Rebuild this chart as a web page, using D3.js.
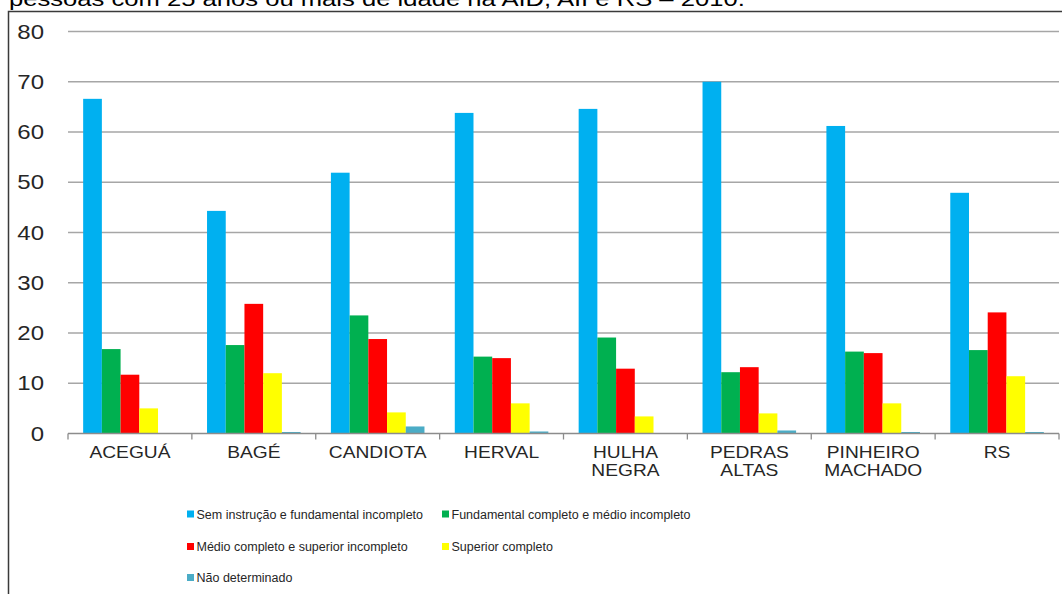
<!DOCTYPE html>
<html>
<head>
<meta charset="utf-8">
<script src="https://cdn.jsdelivr.net/npm/d3@7.9.0/dist/d3.min.js"></script>
<style>
  html, body { margin: 0; padding: 0; background: #fff; }
  svg { display: block; font-family: Arial, "Liberation Sans", sans-serif; }
</style>
</head>
<body>
<div id="chart"></div>
<script>
// === Data ===
const municipios = ["ACEGUÁ", "BAGÉ", "CANDIOTA", "HERVAL", "HULHA NEGRA", "PEDRAS ALTAS", "PINHEIRO MACHADO", "RS"];
const labelLines = [["ACEGUÁ"], ["BAGÉ"], ["CANDIOTA"], ["HERVAL"], ["HULHA", "NEGRA"], ["PEDRAS", "ALTAS"], ["PINHEIRO", "MACHADO"], ["RS"]];

const series = [
  "Sem instrução e fundamental incompleto",
  "Fundamental completo e médio incompleto",
  "Médio completo e superior incompleto",
  "Superior completo",
  "Não determinado"
];
const colors = ["#00B0F0", "#00B050", "#FF0000", "#FFFF00", "#4BACC6"];

const semInstrucao  = [66.6, 44.3, 51.9, 63.8, 64.6, 70.0, 61.2, 47.9];
const fundamental   = [16.8, 17.6, 23.5, 15.3, 19.1, 12.2, 16.3, 16.6];
const medio         = [11.7, 25.8, 18.8, 15.0, 12.9, 13.2, 16.0, 24.1];
const superior      = [5.0, 12.0, 4.2, 6.0, 3.4, 4.0, 6.0, 11.4];
const naoDeterminado = [0.0, 0.3, 1.4, 0.4, 0.0, 0.6, 0.3, 0.3];
const valores = [semInstrucao, fundamental, medio, superior, naoDeterminado];

const yTicks = [0, 10, 20, 30, 40, 50, 60, 70, 80];
const titulo = "pessoas com 25 anos ou mais de idade na AID, AII e RS – 2010.";

// === Layout ===
const W = 1062, H = 594;
const plot = { left: 68, right: 1059, top: 31.5, bottom: 433.5 };

const svg = d3.select("#chart").append("svg")
  .attr("width", W).attr("height", H);

// caption line above the frame, cut off by the top edge as in the source image
svg.append("text")
  .attr("transform", "translate(9,6) scale(1.22,1)")
  .attr("font-size", 21)
  .attr("fill", "#000")
  .text(titulo);

// frame (left + top border)
svg.append("path")
  .attr("d", `M8.5,${H} V11.5 H${W}`)
  .attr("fill", "none")
  .attr("stroke", "#3a3a3a")
  .attr("stroke-width", 1.5);

// === Scales ===
const x0 = d3.scaleBand().domain(municipios).range([plot.left, plot.right]).padding(0);
const x1 = d3.scaleBand().domain(series).range([0, x0.bandwidth()]).paddingInner(0).paddingOuter(0.81);
const y = d3.scaleLinear().domain([0, 80]).range([plot.bottom, plot.top]);

// gridlines
svg.append("g").selectAll("line")
  .data(yTicks.filter(t => t > 0))
  .join("line")
  .attr("x1", plot.left).attr("x2", plot.right)
  .attr("y1", d => y(d)).attr("y2", d => y(d))
  .attr("stroke", "#a6a6a6").attr("stroke-width", 1.3);

// y tick labels
svg.append("g").selectAll("text")
  .data(yTicks)
  .join("text")
  .attr("transform", d => `translate(44,${y(d)}) scale(1.2,1)`)
  .attr("text-anchor", "end")
  .attr("dy", "0.36em")
  .attr("font-size", 20)
  .attr("fill", "#262626")
  .text(d => d);

// bars
const groups = svg.append("g").selectAll("g")
  .data(municipios)
  .join("g")
  .attr("transform", d => `translate(${x0(d)},0)`);

groups.selectAll("rect")
  .data((d, i) => series.map((s, k) => ({ s, k, v: valores[k][i] })))
  .join("rect")
  .attr("x", d => x1(d.s))
  .attr("width", x1.bandwidth())
  .attr("y", d => y(d.v))
  .attr("height", d => plot.bottom - y(d.v))
  .attr("fill", d => colors[d.k]);

// x axis baseline + ticks
const axis = svg.append("g");
axis.append("line")
  .attr("x1", plot.left).attr("x2", plot.right)
  .attr("y1", plot.bottom).attr("y2", plot.bottom)
  .attr("stroke", "#8c8c8c").attr("stroke-width", 1.3);
axis.selectAll("line.tick")
  .data(municipios.map(m => x0(m)).concat([plot.right]))
  .join("line")
  .attr("class", "tick")
  .attr("x1", d => d).attr("x2", d => d)
  .attr("y1", plot.bottom).attr("y2", plot.bottom + 6)
  .attr("stroke", "#8c8c8c").attr("stroke-width", 1.3);

// category labels
axis.selectAll("g.lbl")
  .data(municipios)
  .join("g")
  .attr("class", "lbl")
  .attr("transform", d => `translate(${x0(d) + x0.bandwidth() / 2},458) scale(1.2,1)`)
  .each(function(d, i) {
    d3.select(this).selectAll("text")
      .data(labelLines[i])
      .join("text")
      .attr("y", (t, j) => j * 18)
      .attr("text-anchor", "middle")
      .attr("font-size", 16)
      .attr("fill", "#262626")
      .text(t => t);
  });

// legend
const legendPos = [[187, 514], [442, 514], [187, 546.5], [442, 546.5], [187, 577.5]];
const legend = svg.append("g").selectAll("g")
  .data(series)
  .join("g")
  .attr("transform", (d, i) => `translate(${legendPos[i][0]},${legendPos[i][1]})`);
legend.append("rect")
  .attr("x", 0).attr("y", -3.5)
  .attr("width", 7).attr("height", 7)
  .attr("fill", (d, i) => colors[i]);
legend.append("text")
  .attr("x", 9.5)
  .attr("dy", "0.36em")
  .attr("font-size", 12.5)
  .attr("fill", "#262626")
  .text(d => d);
</script>
</body>
</html>
